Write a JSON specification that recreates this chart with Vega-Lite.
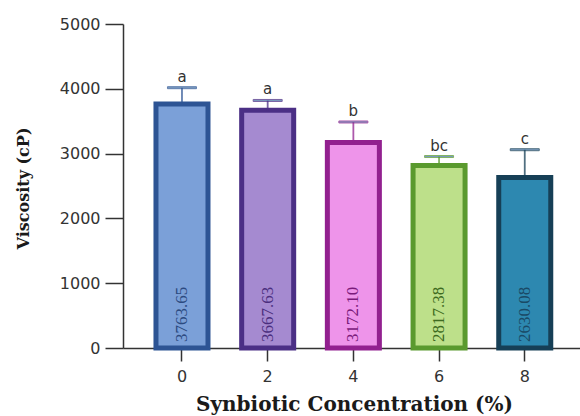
{
  "$schema": "https://vega.github.io/schema/vega-lite/v6.json",
  "width": 457,
  "height": 324,
  "autosize": {"type": "none"},
  "padding": {"left": 123, "top": 24, "right": 0, "bottom": 68},
  "background": "white",
  "config": {"view": {"stroke": null}},
  "data": {
    "values": [
      {"conc": "0", "visc": 3763.65, "upper": 4017, "label": "3763.65", "group": "a"},
      {"conc": "2", "visc": 3667.63, "upper": 3820, "label": "3667.63", "group": "a"},
      {"conc": "4", "visc": 3172.10, "upper": 3488, "label": "3172.10", "group": "b"},
      {"conc": "6", "visc": 2817.38, "upper": 2955, "label": "2817.38", "group": "bc"},
      {"conc": "8", "visc": 2630.08, "upper": 3060, "label": "2630.08", "group": "c"}
    ]
  },
  "encoding": {
    "x": {
      "field": "conc", "type": "ordinal", "sort": ["0", "2", "4", "6", "8"],
      "scale": {"paddingInner": 0.393, "paddingOuter": 0.363, "align": 0.53},
      "axis": {
        "title": "Synbiotic Concentration (%)",
        "labelAngle": 0,
        "labelFont": "DejaVu Sans", "labelFontSize": 16, "labelColor": "#333333",
        "labelPadding": 7,
        "tickSize": 13, "tickColor": "#333333", "tickWidth": 1.5,
        "domainColor": "#333333", "domainWidth": 1.5,
        "titleFont": "DejaVu Serif", "titleFontWeight": "bold", "titleFontSize": 20, "titleColor": "#1a1a1a",
        "titleX": 231, "titleY": 62, "titleBaseline": "alphabetic", "titleAlign": "center"
      }
    }
  },
  "layer": [
    {
      "mark": {"type": "bar", "strokeWidth": 5},
      "encoding": {
        "y": {
          "field": "visc", "type": "quantitative",
          "scale": {"domain": [0, 5000], "nice": false},
          "axis": {
            "title": "Viscosity (cP)",
            "values": [0, 1000, 2000, 3000, 4000, 5000],
            "format": "d",
            "grid": false,
            "labelFont": "DejaVu Sans", "labelFontSize": 16, "labelColor": "#333333",
            "labelPadding": 5,
            "tickSize": 18, "tickColor": "#333333", "tickWidth": 1.5,
            "domainColor": "#333333", "domainWidth": 1.5,
            "titleFont": "DejaVu Serif", "titleFontWeight": "bold", "titleFontSize": 16, "titleColor": "#1a1a1a",
            "titleX": -100, "titleY": 164, "titleAngle": -90, "titleBaseline": "middle", "titleAlign": "center"
          }
        },
        "fill": {
          "field": "conc", "type": "nominal", "legend": null,
          "scale": {"domain": ["0", "2", "4", "6", "8"], "range": ["#7ba0d8", "#a58ad0", "#ee94ea", "#bde08a", "#2d88b0"]}
        },
        "stroke": {
          "field": "conc", "type": "nominal", "legend": null,
          "scale": {"domain": ["0", "2", "4", "6", "8"], "range": ["#2d5494", "#4b2f85", "#92208f", "#5a9a2e", "#163f56"]}
        }
      }
    },
    {
      "mark": {"type": "rule", "strokeWidth": 1.8, "strokeOpacity": 0.75},
      "encoding": {
        "y": {"field": "visc", "type": "quantitative"},
        "y2": {"field": "upper"},
        "stroke": {"field": "conc", "type": "nominal", "legend": null}
      }
    },
    {
      "mark": {"type": "tick", "size": 29, "thickness": 2, "opacity": 0.75},
      "encoding": {
        "y": {"field": "upper", "type": "quantitative"},
        "stroke": {"field": "conc", "type": "nominal", "legend": null}
      }
    },
    {
      "mark": {"type": "text", "font": "DejaVu Sans", "fontSize": 15, "baseline": "alphabetic", "dy": -6, "fill": "#333333"},
      "encoding": {
        "y": {"field": "upper", "type": "quantitative"},
        "text": {"field": "group"}
      }
    },
    {
      "mark": {"type": "text", "font": "Liberation Serif", "fontSize": 17, "angle": 270, "align": "left", "baseline": "middle", "dx": 6},
      "encoding": {
        "y": {"datum": 0, "type": "quantitative"},
        "text": {"field": "label"},
        "color": {
          "field": "conc", "type": "nominal", "legend": null,
          "scale": {"domain": ["0", "2", "4", "6", "8"], "range": ["#2c4a80", "#4b2e7e", "#7a1a7a", "#3d6a20", "#1a4a66"]}
        }
      }
    }
  ]
}
